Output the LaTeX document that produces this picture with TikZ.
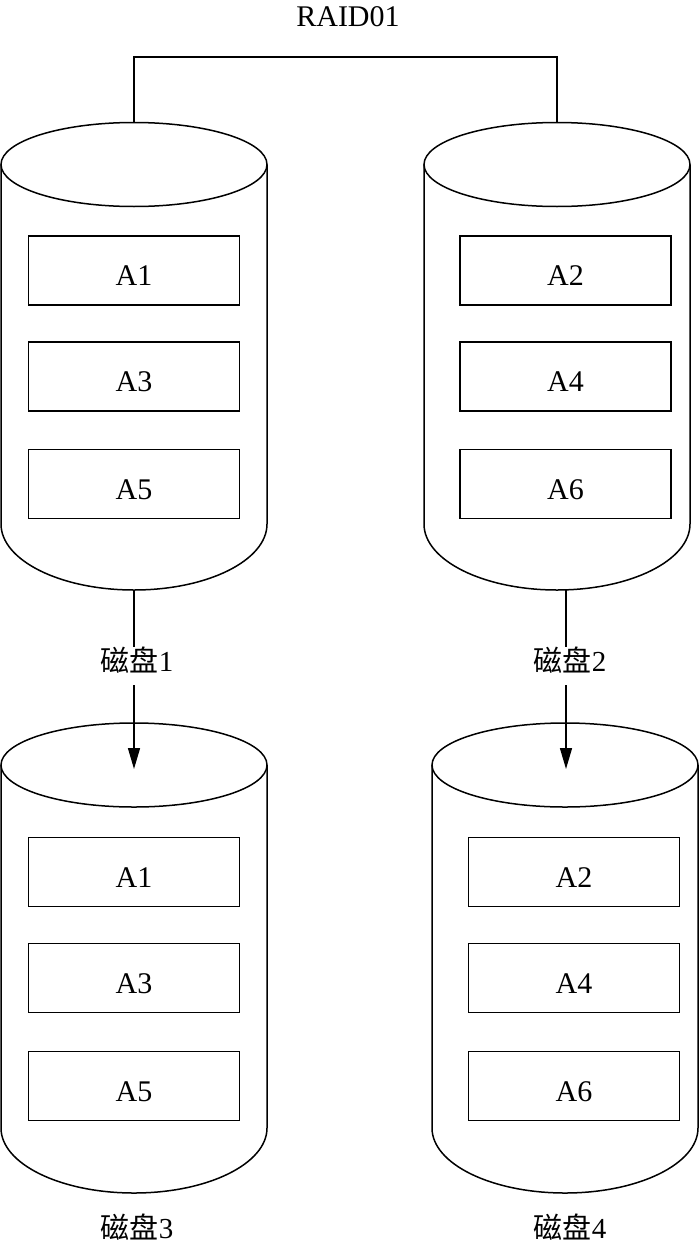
\documentclass[tikz,border=0pt]{standalone}
\usepackage{fontspec}
\setmainfont{Liberation Serif}
\newfontfamily\cjk{Noto Sans CJK SC}
\usetikzlibrary{arrows.meta}
\newcommand\mycyl[4]{%
  \draw[diskline] (#1,#2) ellipse [x radius=133pt, y radius=42pt];
  \draw[diskline] (#1-133,#2) -- (#1-133,#3) arc[start angle=180, end angle=360, x radius=133pt, y radius=#4pt] -- (#1+133,#2);
}
\begin{document}
\begin{tikzpicture}[x=1pt,y=-1pt,
  diskline/.style={line width=1.5pt},
  blk/.style={draw, line width=1.5pt, minimum width=211pt, minimum height=69pt, inner sep=0pt,
    font=\fontsize{30}{36}\selectfont, text height=30pt, text depth=0pt},
  lbl/.style={font=\fontsize{29}{34}\selectfont, inner sep=0pt, anchor=base},
  wire/.style={line width=1.5pt},
  arr/.style={line width=1.5pt, -{Triangle[length=21pt,width=12pt]}}]
\useasboundingbox (0,0) rectangle (700,1247);
% title and bracket
\node[lbl, font=\fontsize{30}{36}\selectfont] (title) at (348,27) {RAID01};
\coordinate (bar) at (348,57);
\coordinate (c1top) at (134,122.5);
\coordinate (c2top) at (557,122.5);
\draw[wire] (c1top) |- (bar) -| (c2top);
% cylinders
\mycyl{134}{164.5}{524}{66}
\mycyl{557}{164.5}{524}{66}
\mycyl{134}{765}{1128}{65}
\mycyl{565}{765}{1128}{65}
% blocks
\node[blk] (d1a) at (134,270.5) {A1};
\node[blk] (d1b) at (134,376.5) {A3};
\node[blk] (d1c) at (134,484) {A5};
\node[blk] (d2a) at (565.5,270.5) {A2};
\node[blk] (d2b) at (565.5,376.5) {A4};
\node[blk] (d2c) at (565.5,484) {A6};
\node[blk] (d3a) at (134,872) {A1};
\node[blk] (d3b) at (134,978) {A3};
\node[blk] (d3c) at (134,1086) {A5};
\node[blk] (d4a) at (574,872) {A2};
\node[blk] (d4b) at (574,978) {A4};
\node[blk] (d4c) at (574,1086) {A6};
% labels
\node[lbl] (l1) at (137,671) {{\cjk 磁盘}1};
\node[lbl] (l2) at (570,671) {{\cjk 磁盘}2};
\node[lbl] (l3) at (137,1238) {{\cjk 磁盘}3};
\node[lbl] (l4) at (570,1238) {{\cjk 磁盘}4};
% arrows
\coordinate (c1bot) at (134,590);
\coordinate (g1a) at (134,647);
\coordinate (g1b) at (134,685);
\coordinate (c3in) at (134,769);
\coordinate (c2bot) at (566,590);
\coordinate (g2a) at (566,647);
\coordinate (g2b) at (566,685);
\coordinate (c4in) at (566,769);
\draw[wire] (c1bot) -- (g1a);
\draw[arr] (g1b) -- (c3in);
\draw[wire] (c2bot) -- (g2a);
\draw[arr] (g2b) -- (c4in);
\end{tikzpicture}
\end{document}
